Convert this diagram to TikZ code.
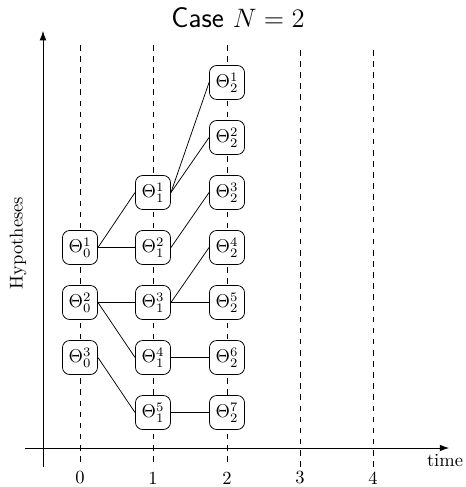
\documentclass[tikz,border=0pt]{standalone}
\usetikzlibrary{arrows.meta}
\begin{document}
\begin{tikzpicture}[x=0.54pt,y=-0.54pt,
  hyp/.style={draw,fill=white,rounded corners=4pt,minimum width=19pt,minimum height=18.4pt,inner sep=0pt},
  grid/.style={dashed},
  axis/.style={-{Latex[length=5pt,width=3.6pt]}},
  tick/.style={inner sep=0pt}]
\useasboundingbox (0,0) rectangle (465,487);
% title
\node[font=\sffamily\fontsize{15.5}{18}\selectfont] (title) at (238,18) {Case $N=2$};
% time grid
\foreach \i/\x/\t in {0/80/45,1/153/45,2/227/45,3/300/50,4/373/50}{
  \coordinate (gt\i) at (\x,\t);
  \coordinate (gb\i) at (\x,467);
  \draw[grid] (gt\i) -- (gb\i);
  \node[tick] (lab\i) at (\x,478) {\i};
}
% axes
\coordinate (vb) at (43,467);
\coordinate (vt) at (43,31);
\coordinate (hl) at (25,448);
\coordinate (hr) at (449,448);
\draw[axis] (vb) -- (vt);
\draw[axis] (hl) -- (hr);
\node (time) at (445,461) {time};
\node[rotate=90] (hyp) at (18,243) {Hypotheses};
% nodes
\node[hyp] (a1) at (80,247.5) {$\Theta_0^1$};
\node[hyp] (a2) at (80,302.5) {$\Theta_0^2$};
\node[hyp] (a3) at (80,357.5) {$\Theta_0^3$};
\node[hyp] (b1) at (153,192.5) {$\Theta_1^1$};
\node[hyp] (b2) at (153,247.5) {$\Theta_1^2$};
\node[hyp] (b3) at (153,302.5) {$\Theta_1^3$};
\node[hyp] (b4) at (153,357.5) {$\Theta_1^4$};
\node[hyp] (b5) at (153,412.5) {$\Theta_1^5$};
\node[hyp] (c1) at (227,82.5) {$\Theta_2^1$};
\node[hyp] (c2) at (227,137.5) {$\Theta_2^2$};
\node[hyp] (c3) at (227,192.5) {$\Theta_2^3$};
\node[hyp] (c4) at (227,247.5) {$\Theta_2^4$};
\node[hyp] (c5) at (227,302.5) {$\Theta_2^5$};
\node[hyp] (c6) at (227,357.5) {$\Theta_2^6$};
\node[hyp] (c7) at (227,412.5) {$\Theta_2^7$};
% edges
\foreach \s/\t in {a1/b1,a1/b2,a2/b3,a2/b4,a3/b5,b1/c1,b1/c2,b2/c3,b3/c4,b3/c5,b4/c6,b5/c7}
  \draw (\s.east) -- (\t.west);
\end{tikzpicture}
\end{document}
